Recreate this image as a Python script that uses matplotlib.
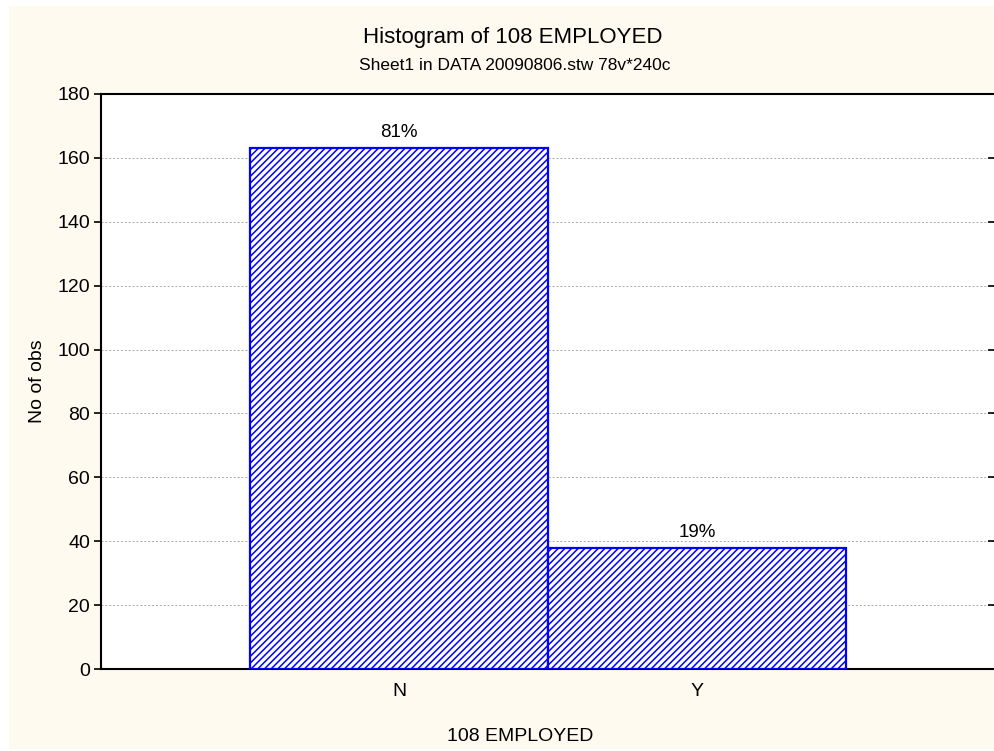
import matplotlib.pyplot as plt
from matplotlib.patches import Rectangle

plt.rcParams['font.family'] = ['Liberation Sans', 'DejaVu Sans']
plt.rcParams['hatch.linewidth'] = 1.1

# data
categories = ['N', 'Y']
counts = [163, 38]
percent_labels = ['81%', '19%']
y_ticks = [0, 20, 40, 60, 80, 100, 120, 140, 160, 180]

fig = plt.figure(figsize=(9.94, 7.51), dpi=100)
fig.patch.set_facecolor('white')
# peach background panel with a thin white border at top/left
fig.patches.append(Rectangle((9 / 994, 2 / 751), 1, 743 / 751,
                             transform=fig.transFigure, facecolor='#FFFAF0',
                             edgecolor='none', zorder=-5))

ax = fig.add_axes([101 / 994, 1 - 669 / 751, 894 / 994, 575 / 751])
ax.set_facecolor('white')

positions = [1, 2]
bars = ax.bar(positions, counts, width=1.0, facecolor='white', edgecolor='#0000FF',
              hatch='/////', linewidth=1.6, zorder=3)

for b, lab in zip(bars, percent_labels):
    ax.text(b.get_x() + b.get_width() / 2, b.get_height() + 2.2, lab,
            ha='center', va='bottom', fontsize=13.5, zorder=4)

ax.set_xlim(0, 3)
ax.set_ylim(0, 180)
ax.set_yticks(y_ticks)
ax.set_xticks(positions)
ax.set_xticklabels(categories)
ax.grid(axis='y', color='#AAAAAA', linestyle=(0, (2, 2)), linewidth=0.7, zorder=1)

ax.tick_params(axis='y', which='both', direction='out', length=5, width=1.2,
               labelsize=14, right=True, pad=3)
ax.tick_params(axis='x', direction='in', length=5, width=1.2, labelsize=14, pad=10)
# right side ticks point inward
for t in ax.yaxis.get_major_ticks():
    t.tick2line.set_marker(0)
    t.tick2line.set_markersize(5)

for s in ax.spines.values():
    s.set_linewidth(1.5)

ax.set_xlabel('108 EMPLOYED', fontsize=14, labelpad=20)
ax.xaxis.label.set_x(0.469)
ax.set_ylabel('No of obs', fontsize=14, labelpad=8)

fig.text(513 / 994, 1 - 37 / 751, 'Histogram of 108 EMPLOYED', ha='center', va='center', fontsize=16)
fig.text(515 / 994, 1 - 66 / 751, 'Sheet1 in DATA 20090806.stw 78v*240c', ha='center', va='center', fontsize=12.5)

fig.savefig('out.png', dpi=100)
